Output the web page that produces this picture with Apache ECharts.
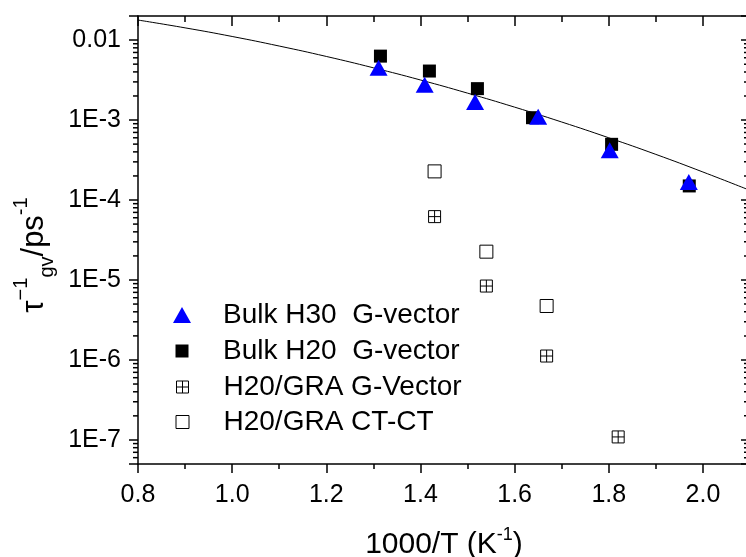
<!DOCTYPE html>
<html>
<head>
<meta charset="utf-8">
<script src="https://cdn.jsdelivr.net/npm/echarts@6/dist/echarts.min.js"></script>
<style>
  html, body { margin: 0; padding: 0; background: #fff; }
  #main { width: 746px; height: 557px; }
</style>
</head>
<body>
<div id="main"></div>
<script>
(function () {
    'use strict';

    // Bulk H30 G-vector (blue triangles)
    var bulkH30X = [1.311, 1.409, 1.516, 1.650, 1.802, 1.970];
    var bulkH30Y = [4.5e-3, 2.77e-3, 1.68e-3, 1.10e-3, 4.18e-4, 1.68e-4];

    // Bulk H20 G-vector (black squares)
    var bulkH20X = [1.315, 1.419, 1.521, 1.638, 1.806, 1.971];
    var bulkH20Y = [6.3e-3, 4.1e-3, 2.47e-3, 1.07e-3, 4.97e-4, 1.50e-4];

    // H20/GRA G-Vector (crossed squares)
    var graGvX = [1.430, 1.540, 1.668, 1.820];
    var graGvY = [6.2e-5, 8.4e-6, 1.12e-6, 1.09e-7];

    // H20/GRA CT-CT (open squares)
    var graCtX = [1.430, 1.540, 1.668];
    var graCtY = [2.28e-4, 2.26e-5, 4.73e-6];

    // fitted curve
    var fitX = [0.8, 0.9, 1.0, 1.1, 1.2, 1.3, 1.4, 1.5, 1.6, 1.7, 1.8, 1.9, 2.0, 2.1];
    var fitY = [0.0178, 0.01422, 0.01109, 8.42e-3, 6.24e-3, 4.50e-3, 3.17e-3,
                2.17e-3, 1.45e-3, 9.45e-4, 6.00e-4, 3.72e-4, 2.24e-4, 1.32e-4];

    // log axis minor tick positions (2..9 within each decade)
    var minorDecades = [1e-8, 1e-7, 1e-6, 1e-5, 1e-4, 1e-3, 1e-2];
    var minorSteps = [2, 3, 4, 5, 6, 7, 8, 9];

    var X_MIN = 0.8, X_MAX = 2.1;
    var Y_MIN = 5e-8, Y_MAX = 0.02;
    var FONT = 'Liberation Sans, Arial, sans-serif';

    function pairs(xs, ys) {
        return xs.map(function (x, i) { return [x, ys[i]]; });
    }

    var minorData = [];
    minorDecades.forEach(function (d) {
        minorSteps.forEach(function (s) {
            var v = d * s;
            if (v > Y_MIN && v < Y_MAX) {
                minorData.push([X_MIN, v]);
            }
        });
    });

    function yLabel(v) {
        var e = Math.log(v) / Math.LN10;
        var r = Math.round(e);
        if (Math.abs(e - r) > 0.01) {
            return '';
        }
        if (r === -2) {
            return '0.01';
        }
        return '1E' + r;
    }

    var crossPath = 'path://M0,0H12V12H0Z M6,0V12 M0,6H12';

    // one legend per row so every icon keeps its own size
    function legendFor(name, icon, w, h, rowY, bordered) {
        return {
            data: [{ name: name, icon: icon }],
            orient: 'vertical',
            left: 182 - w / 2,
            top: rowY - 16,
            padding: 0,
            itemWidth: w,
            itemHeight: h,
            itemStyle: { borderWidth: bordered ? 1 : 0 },
            selectedMode: false,
            textStyle: {
                fontFamily: FONT,
                fontSize: 28,
                color: '#000',
                padding: [0, 0, 0, 223 - (182 + w / 2 + 5)]
            }
        };
    }

    var chart = echarts.init(document.getElementById('main'), null, { renderer: 'canvas' });

    var option = {
        animation: false,
        backgroundColor: '#fff',
        grid: {
            left: 138, right: -4, top: 16, bottom: 93,
            containLabel: false,
            outerBoundsMode: 'none'
        },
        legend: [
            legendFor('Bulk H30  G-vector', 'triangle', 18, 16, 317, false),
            legendFor('Bulk H20  G-vector', 'rect', 13, 13, 353, false),
            legendFor('H20/GRA G-Vector', crossPath, 12, 12, 389, true),
            legendFor('H20/GRA CT-CT', 'rect', 13, 13, 424, true)
        ],
        xAxis: [{
            type: 'value',
            min: X_MIN,
            max: X_MAX,
            interval: 0.2,
            position: 'bottom',
            axisLine: { show: true, onZero: false, lineStyle: { color: '#000', width: 1.5 } },
            axisTick: { show: true, inside: false, length: 9, lineStyle: { color: '#000', width: 1.5 } },
            minorTick: { show: true, splitNumber: 2, length: 5, lineStyle: { color: '#000', width: 1.5 } },
            splitLine: { show: false },
            axisLabel: {
                margin: 19,
                fontFamily: FONT,
                fontSize: 25,
                color: '#000',
                formatter: function (v) {
                    return v > 2.05 ? '' : v.toFixed(1);
                }
            },
            name: '1000/T (K{sup|-1})',
            nameLocation: 'middle',
            nameGap: 62,
            nameTextStyle: {
                fontFamily: FONT,
                fontSize: 30,
                color: '#000',
                lineHeight: 38,
                rich: {
                    sup: { fontFamily: FONT, fontSize: 18, color: '#000', verticalAlign: 'top', lineHeight: 20 }
                }
            }
        }, {
            type: 'value',
            min: X_MIN,
            max: X_MAX,
            interval: 0.2,
            position: 'top',
            axisLine: { show: true, onZero: false, lineStyle: { color: '#000', width: 1.5 } },
            axisTick: { show: true, inside: true, length: 10, lineStyle: { color: '#000', width: 1.5 } },
            minorTick: { show: true, splitNumber: 2, length: 6, lineStyle: { color: '#000', width: 1.5 } },
            splitLine: { show: false },
            axisLabel: { show: false }
        }],
        yAxis: [{
            type: 'log',
            logBase: 10,
            min: Y_MIN,
            max: Y_MAX,
            position: 'left',
            axisLine: { show: true, onZero: false, lineStyle: { color: '#000', width: 1.5 } },
            axisTick: { show: true, inside: false, length: 9, lineStyle: { color: '#000', width: 1.5 } },
            splitLine: { show: false },
            axisLabel: {
                margin: 17,
                fontFamily: FONT,
                fontSize: 25,
                color: '#000',
                formatter: yLabel
            },
            name: '{t|τ}{s1|−1}{sub|gv}{t|/ps}{s2|-1}',
            nameLocation: 'middle',
            nameRotate: 90,
            nameGap: 80,
            nameTextStyle: {
                fontFamily: FONT,
                fontSize: 31,
                color: '#000',
                padding: [0, 30, 0, 0],
                rich: {
                    t: { fontFamily: FONT, fontSize: 31, color: '#000', lineHeight: 46 },
                    s1: { fontFamily: FONT, fontSize: 20, color: '#000', verticalAlign: 'top', lineHeight: 22 },
                    s2: { fontFamily: FONT, fontSize: 20, color: '#000', verticalAlign: 'top', lineHeight: 22 },
                    sub: { fontFamily: FONT, fontSize: 20, color: '#000', verticalAlign: 'bottom', lineHeight: 22 }
                }
            }
        }, {
            type: 'log',
            logBase: 10,
            min: Y_MIN,
            max: Y_MAX,
            position: 'right',
            axisLine: { show: true, onZero: false, lineStyle: { color: '#000', width: 1.5 } },
            axisTick: { show: true, inside: true, length: 9, lineStyle: { color: '#000', width: 1.5 } },
            splitLine: { show: false },
            axisLabel: { show: false }
        }],
        series: [{
            name: 'fit',
            type: 'line',
            data: pairs(fitX, fitY),
            smooth: true,
            showSymbol: false,
            symbol: 'none',
            silent: true,
            lineStyle: { color: '#000', width: 1 },
            z: 2
        }, {
            name: 'Bulk H20  G-vector',
            type: 'scatter',
            data: pairs(bulkH20X, bulkH20Y),
            symbol: 'rect',
            symbolSize: 13,
            itemStyle: { color: '#000', opacity: 1 },
            z: 3
        }, {
            name: 'Bulk H30  G-vector',
            type: 'scatter',
            data: pairs(bulkH30X, bulkH30Y),
            symbol: 'triangle',
            symbolSize: [18, 16],
            itemStyle: { color: '#0000ff', opacity: 1 },
            z: 4
        }, {
            name: 'H20/GRA G-Vector',
            type: 'scatter',
            data: pairs(graGvX, graGvY),
            symbol: crossPath,
            symbolSize: 12,
            itemStyle: { color: '#fff', borderColor: '#000', borderWidth: 1, opacity: 1 },
            z: 3
        }, {
            name: 'H20/GRA CT-CT',
            type: 'scatter',
            data: pairs(graCtX, graCtY),
            symbol: 'rect',
            symbolSize: 13,
            itemStyle: { color: '#fff', borderColor: '#000', borderWidth: 1, opacity: 1 },
            z: 3
        }, {
            // minor ticks of the log axes, drawn at their true positions
            name: 'minor',
            type: 'custom',
            data: minorData,
            silent: true,
            clip: false,
            z: 5,
            renderItem: function (params, api) {
                var v = api.value(1);
                var pl = api.coord([X_MIN, v]);
                var pr = api.coord([X_MAX, v]);
                return {
                    type: 'group',
                    children: [{
                        type: 'line',
                        shape: { x1: pl[0] - 5, y1: pl[1], x2: pl[0], y2: pl[1] },
                        style: { stroke: '#000', lineWidth: 1.5 }
                    }, {
                        type: 'line',
                        shape: { x1: pr[0] - 6, y1: pr[1], x2: pr[0], y2: pr[1] },
                        style: { stroke: '#000', lineWidth: 1.5 }
                    }]
                };
            }
        }]
    };

    chart.setOption(option);
})();
</script>
</body>
</html>
